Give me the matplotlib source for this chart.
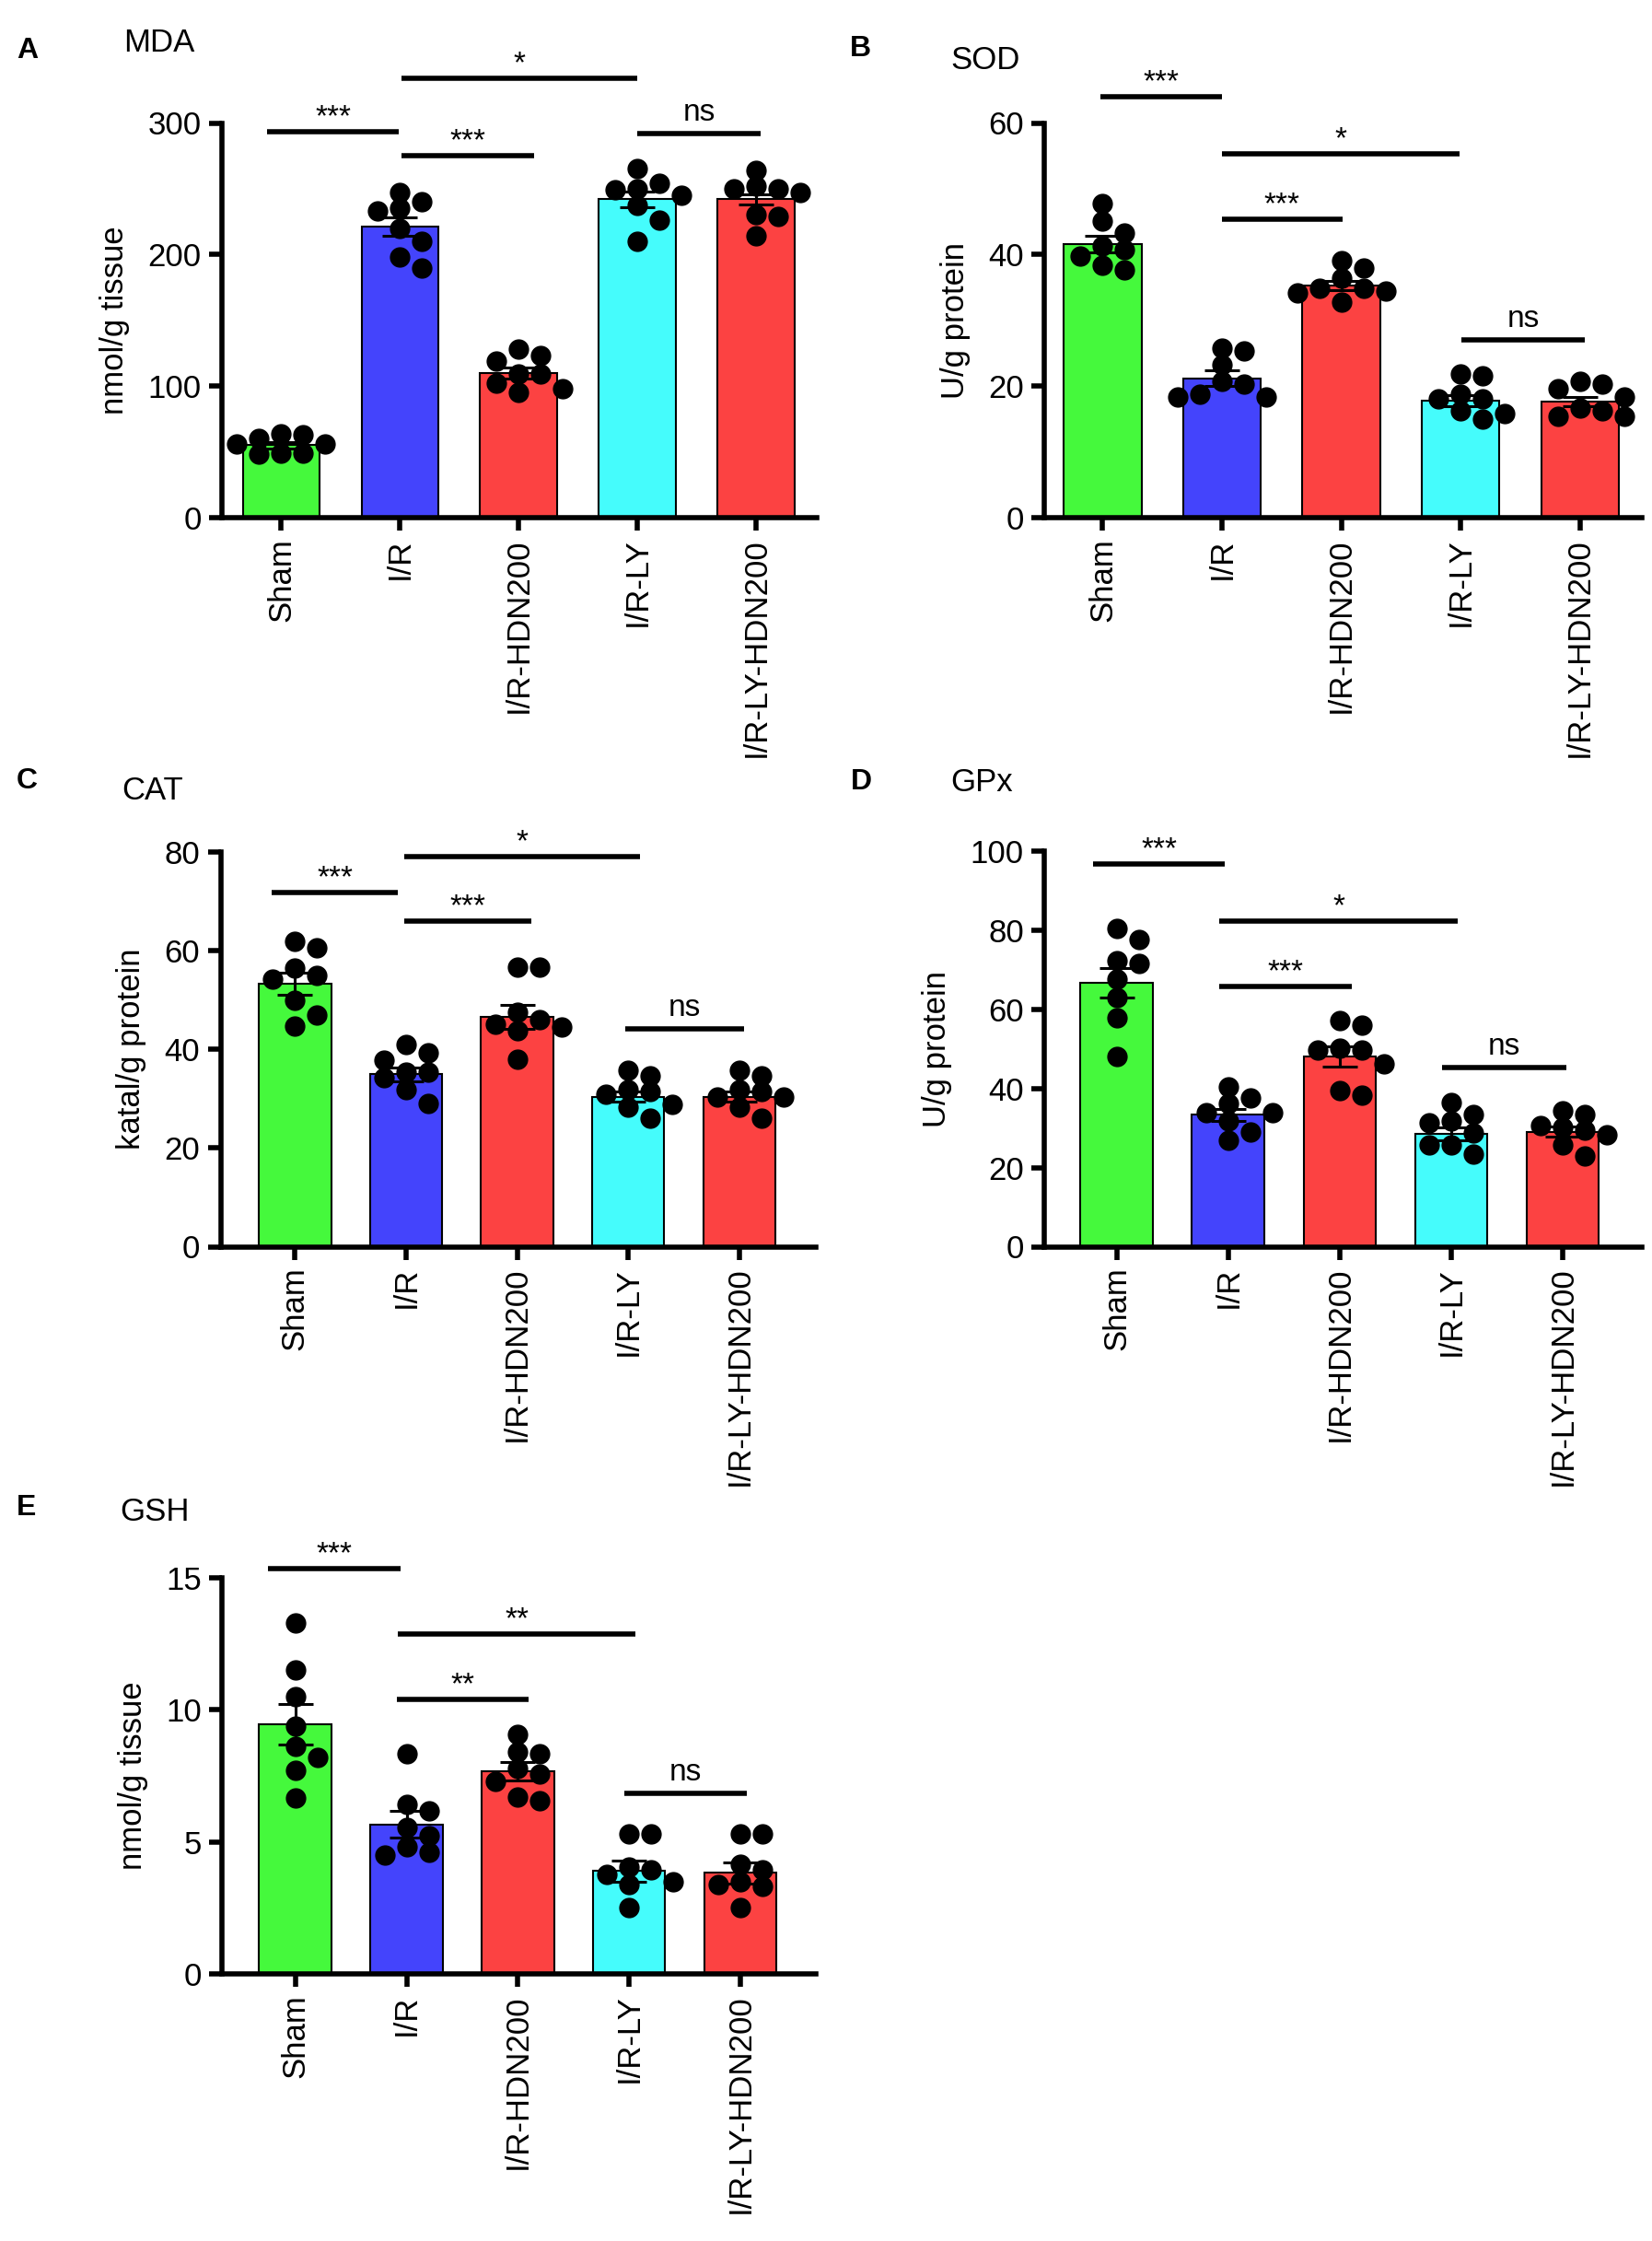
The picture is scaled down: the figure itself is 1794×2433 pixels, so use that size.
import numpy as np
import matplotlib.pyplot as plt

plt.rcParams['font.family'] = ['Liberation Sans', 'DejaVu Sans']

W, H = 1794, 2433

groups = ['Sham', 'I/R', 'I/R-HDN200', 'I/R-LY', 'I/R-LY-HDN200']
bar_colors = ['#45f93c', '#4444fc', '#fc4242', '#45fcfc', '#fc4242']

# MDA, nmol/g tissue
mda_means = [55, 221, 110, 242, 242]
mda_sem = [2.5, 7, 4, 6, 4]
mda_points = [
    [64, 49, 56, 60, 49, 56, 63, 48],
    [233, 247, 235, 240, 210, 190, 198, 220],
    [119, 128, 123, 95, 102, 98, 109, 109],
    [249, 254, 265, 250, 237, 226, 210, 245],
    [250, 264, 247, 252, 250, 230, 214, 229],
]
mda_brackets = [(-0.12, 0.99, 293, '***'), (1.01, 2.13, 275, '***'),
                (1.01, 3.0, 334, '*'), (3.0, 4.04, 292, 'ns')]

# SOD, U/g protein
sod_means = [41.6, 21.2, 35.3, 17.8, 17.7]
sod_sem = [1.3, 1.2, 0.7, 0.8, 0.7]
sod_points = [
    [37.7, 47.8, 45.1, 43.2, 41.3, 40.8, 38.3, 39.8],
    [25.3, 25.8, 23.2, 18.4, 18.8, 18.4, 20.3, 20.7],
    [37.9, 39.0, 36.4, 34.5, 34.8, 32.7, 34.8, 34.1],
    [21.9, 21.5, 18.8, 15.0, 16.2, 15.8, 18.1, 18.1],
    [20.7, 20.3, 19.6, 18.4, 15.4, 15.4, 16.2, 16.6],
]
sod_brackets = [(-0.02, 1.0, 64.0, '***'), (1.0, 2.99, 55.3, '*'),
                (1.0, 2.01, 45.4, '***'), (3.01, 4.04, 27.0, 'ns')]

# CAT, katal/g protein
cat_means = [53.3, 35.0, 46.6, 30.4, 30.4]
cat_sem = [2.2, 1.4, 2.4, 1.0, 1.0]
cat_points = [
    [61.8, 60.5, 56.4, 55.0, 54.3, 50.0, 44.7, 46.9],
    [39.3, 40.9, 37.8, 35.3, 35.3, 34.2, 31.9, 29.1],
    [56.7, 56.7, 47.6, 44.5, 43.7, 45.1, 38.0, 46.1],
    [35.8, 34.6, 31.4, 31.9, 30.9, 26.0, 28.8, 28.2],
    [35.8, 34.6, 30.4, 30.4, 26.0, 28.2, 31.9, 31.4],
]
cat_brackets = [(-0.21, 0.93, 71.7, '***'), (0.98, 2.13, 66.0, '***'),
                (0.98, 3.11, 79.0, '*'), (2.97, 4.04, 44.1, 'ns')]

# GPx, U/g protein
gpx_means = [66.7, 33.3, 48.1, 28.5, 29.1]
gpx_sem = [3.7, 1.6, 2.6, 1.6, 1.3]
gpx_points = [
    [80.5, 77.7, 72.2, 71.6, 67.7, 63.0, 57.8, 48.0],
    [40.3, 37.6, 36.1, 33.9, 33.9, 26.9, 29.0, 31.8],
    [56.1, 57.2, 49.6, 49.6, 50.2, 46.3, 38.2, 39.5],
    [36.4, 33.4, 31.8, 31.2, 23.3, 25.7, 28.8, 25.7],
    [33.4, 34.3, 30.2, 30.6, 28.2, 22.9, 25.7, 29.4],
]
gpx_brackets = [(-0.21, 0.97, 96.7, '***'), (0.92, 2.11, 65.7, '***'),
                (0.92, 3.06, 82.3, '*'), (2.92, 4.03, 45.3, 'ns')]

# GSH, nmol/g tissue
gsh_means = [9.45, 5.66, 7.66, 3.89, 3.82]
gsh_sem = [0.78, 0.5, 0.35, 0.4, 0.4]
gsh_points = [
    [13.3, 11.5, 10.5, 9.4, 8.6, 8.2, 7.7, 6.65],
    [8.33, 6.19, 6.43, 5.53, 4.83, 4.51, 4.60, 5.25],
    [9.07, 8.42, 8.33, 7.77, 7.58, 7.30, 6.56, 6.69],
    [5.29, 5.29, 4.04, 3.76, 3.95, 3.39, 2.52, 3.48],
    [5.29, 5.29, 4.14, 3.95, 3.39, 3.30, 2.52, 3.48],
]
gsh_brackets = [(-0.25, 0.95, 15.35, '***'), (0.91, 2.10, 10.38, '**'),
                (0.92, 3.06, 12.86, '**'), (2.96, 4.06, 6.84, 'ns')]

fig = plt.figure(figsize=(W / 100, H / 100), dpi=100)


def swarm(ax, xc, vals, step_px=24, min_dist=17, max_cols=2):
    # beeswarm kept inside the bar: nearest free column, else the least crowded one
    pts = ax.transData.transform(np.column_stack([np.full(len(vals), xc), vals]))
    ypx = pts[:, 1]
    px_per_x = ax.transData.transform((1, 0))[0] - ax.transData.transform((0, 0))[0]
    cands = [0]
    for k in range(1, max_cols + 1):
        cands += [k, -k]
    placed = []
    offs = np.zeros(len(vals))
    for i in np.argsort(vals)[::-1]:
        best, best_d = 0, -1
        for c in cands:
            ox = c * step_px
            d = min([np.hypot(ox - px, ypx[i] - py) for px, py in placed] + [1e9])
            if d >= min_dist:
                best = ox
                break
            if d > best_d:
                best, best_d = ox, d
        offs[i] = best
        placed.append((best, ypx[i]))
    return xc + offs / px_per_x


def panel(box, xlim, ylim, yticks, ylabel, means, sems, points, brackets):
    left, right, top, bottom = box
    ax = fig.add_axes([left / W, 1 - bottom / H, (right - left) / W, (bottom - top) / H])
    x = np.arange(len(groups))
    ax.bar(x, means, width=0.65, color=bar_colors, edgecolor='black', linewidth=1.5, zorder=2)
    ax.set_xlim(*xlim)
    ax.set_ylim(*ylim)
    for i, vals in enumerate(points):
        xs = swarm(ax, i, np.array(vals, dtype=float))
        ax.plot(xs, vals, 'o', color='black', markersize=15, zorder=3, clip_on=False)
    ax.errorbar(x, means, yerr=sems, fmt='none', ecolor='black', elinewidth=2.2,
                capsize=14, capthick=2.2, zorder=4)
    for x0, x1, y, lab in brackets:
        ax.plot([x0, x1], [y, y], color='black', lw=4, solid_capstyle='butt', clip_on=False)
        off = 10 if lab == 'ns' else 5
        ax.annotate(lab, xy=((x0 + x1) / 2, y), xytext=(0, off), textcoords='offset points',
                    ha='center', va='baseline', fontsize=24, annotation_clip=False)
    ax.set_yticks(yticks)
    ax.set_xticks(x)
    ax.set_xticklabels(groups, rotation=90)
    ax.set_ylabel(ylabel, fontsize=25, labelpad=14)
    for s in ['top', 'right']:
        ax.spines[s].set_visible(False)
    for s in ['left', 'bottom']:
        ax.spines[s].set_linewidth(4)
    ax.tick_params(direction='out', length=10, width=4, labelsize=25, pad=6)
    return ax


panel((241, 887, 133.5, 562), (-0.5, 4.51), (0, 300), [0, 100, 200, 300],
      'nmol/g tissue', mda_means, mda_sem, mda_points, mda_brackets)
panel((1134, 1783, 133.5, 562), (-0.49, 4.52), (0, 60), [0, 20, 40, 60],
      'U/g protein', sod_means, sod_sem, sod_points, sod_brackets)
panel((239.5, 886, 925, 1353.5), (-0.67, 4.69), (0, 80), [0, 20, 40, 60, 80],
      'katal/g protein', cat_means, cat_sem, cat_points, cat_brackets)
panel((1134, 1783, 924, 1353.5), (-0.65, 4.71), (0, 100), [0, 20, 40, 60, 80, 100],
      'U/g protein', gpx_means, gpx_sem, gpx_points, gpx_brackets)
panel((241, 886, 1713, 2143), (-0.66, 4.68), (0, 15), [0, 5, 10, 15],
      'nmol/g tissue', gsh_means, gsh_sem, gsh_points, gsh_brackets)

# panel letters and titles
labels = [('A', 18, 63, 'MDA', 134, 56), ('B', 923, 61, 'SOD', 1032, 75),
          ('C', 18, 856, 'CAT', 132, 868), ('D', 924, 857, 'GPx', 1032, 859),
          ('E', 18, 1645, 'GSH', 130, 1651)]
for let, lx, ly, title, tx, ty in labels:
    fig.text(lx / W, 1 - ly / H, let, fontsize=23, fontweight='bold', va='baseline')
    fig.text(tx / W, 1 - ty / H, title, fontsize=25, va='baseline')

fig.savefig('out.png', dpi=100, facecolor='white')
